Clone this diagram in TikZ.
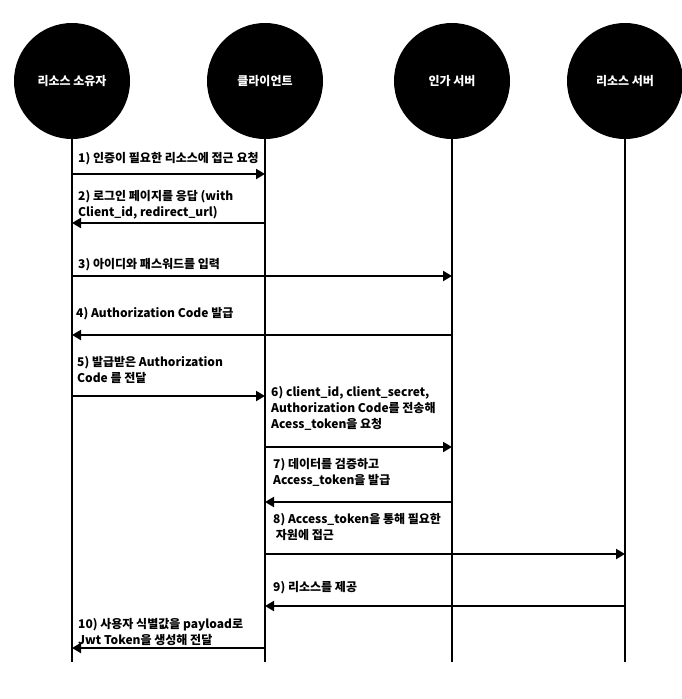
\documentclass[tikz,border=0pt]{standalone}
\usepackage{fontspec}
\setmainfont{Noto Sans CJK KR}
\usetikzlibrary{arrows.meta}

\tikzset{
  actor/.style={circle,fill=black,inner sep=0pt,minimum size=116pt,text=white,font=\bfseries\fontsize{12}{14}\selectfont},
  lifeline/.style={line width=2pt},
  msg/.style={line width=2pt,-{Triangle[length=9pt,width=10pt]}},
  lbl/.style={anchor=north west,inner sep=0pt,align=left,font=\bfseries\fontsize{12}{16}\selectfont}
}

\begin{document}
\begin{tikzpicture}[x=1pt,y=-1pt]
        \useasboundingbox (0,0) rectangle (682,699);

        % participants
        \node[actor] (own) at (72,81) {리소스 소유자};
        \node[actor] (cli) at (265,81) {클라이언트};
        \node[actor] (auth) at (452,81) {인가 서버};
        \node[actor] (res) at (625,81) {리소스 서버};

        \coordinate (own-end) at (72,662);
        \coordinate (cli-end) at (265,662);
        \coordinate (auth-end) at (452,662);
        \coordinate (res-end) at (625,662);

        \draw[lifeline] (own) -- (own-end);
        \draw[lifeline] (cli) -- (cli-end);
        \draw[lifeline] (auth) -- (auth-end);
        \draw[lifeline] (res) -- (res-end);

        % message heights
        \coordinate (m1) at (0,174);
        \coordinate (m2) at (0,223);
        \coordinate (m3) at (0,276);
        \coordinate (m4) at (0,335);
        \coordinate (m5) at (0,396);
        \coordinate (m6) at (0,447);
        \coordinate (m7) at (0,502);
        \coordinate (m8) at (0,554);
        \coordinate (m9) at (0,606);
        \coordinate (m10) at (0,648);

        \draw[msg] (own |- m1) -- (cli |- m1);
        \draw[msg] (cli |- m2) -- (own |- m2);
        \draw[msg] (own |- m3) -- (auth |- m3);
        \draw[msg] (auth |- m4) -- (own |- m4);
        \draw[msg] (own |- m5) -- (cli |- m5);
        \draw[msg] (cli |- m6) -- (auth |- m6);
        \draw[msg] (auth |- m7) -- (cli |- m7);
        \draw[msg] (cli |- m8) -- (res |- m8);
        \draw[msg] (res |- m9) -- (cli |- m9);
        \draw[msg] (cli |- m10) -- (own |- m10);

        % labels
        \node[lbl] (t1) at (78,152) {1) 인증이 필요한 리소스에 접근 요청};
        \node[lbl] (t2) at (78,190) {2) 로그인 페이지를 응답 (with\\Client\_id, redirect\_url)};
        \node[lbl] (t3) at (78,258) {3) 아이디와 패스워드를 입력};
        \node[lbl] (t4) at (76,307) {4) Authorization Code 발급};
        \node[lbl] (t5) at (77,356) {5) 발급받은 Authorization\\Code 를 전달};
        \node[lbl] (t6) at (271,386) {6) client\_id, client\_secret,\\Authorization Code를 전송해\\Acess\_token을 요청};
        \node[lbl] (t7) at (273,458) {7) 데이터를 검증하고\\Access\_token을 발급};
        \node[lbl] (t8) at (273,513) {8) Access\_token을 통해 필요한\\\ 자원에 접근};
        \node[lbl] (t9) at (273,581) {9) 리소스를 제공};
        \node[lbl] (t10) at (78,618) {10) 사용자 식별값을 payload로\\Jwt Token을 생성해 전달};

    \end{tikzpicture}
\end{document}
